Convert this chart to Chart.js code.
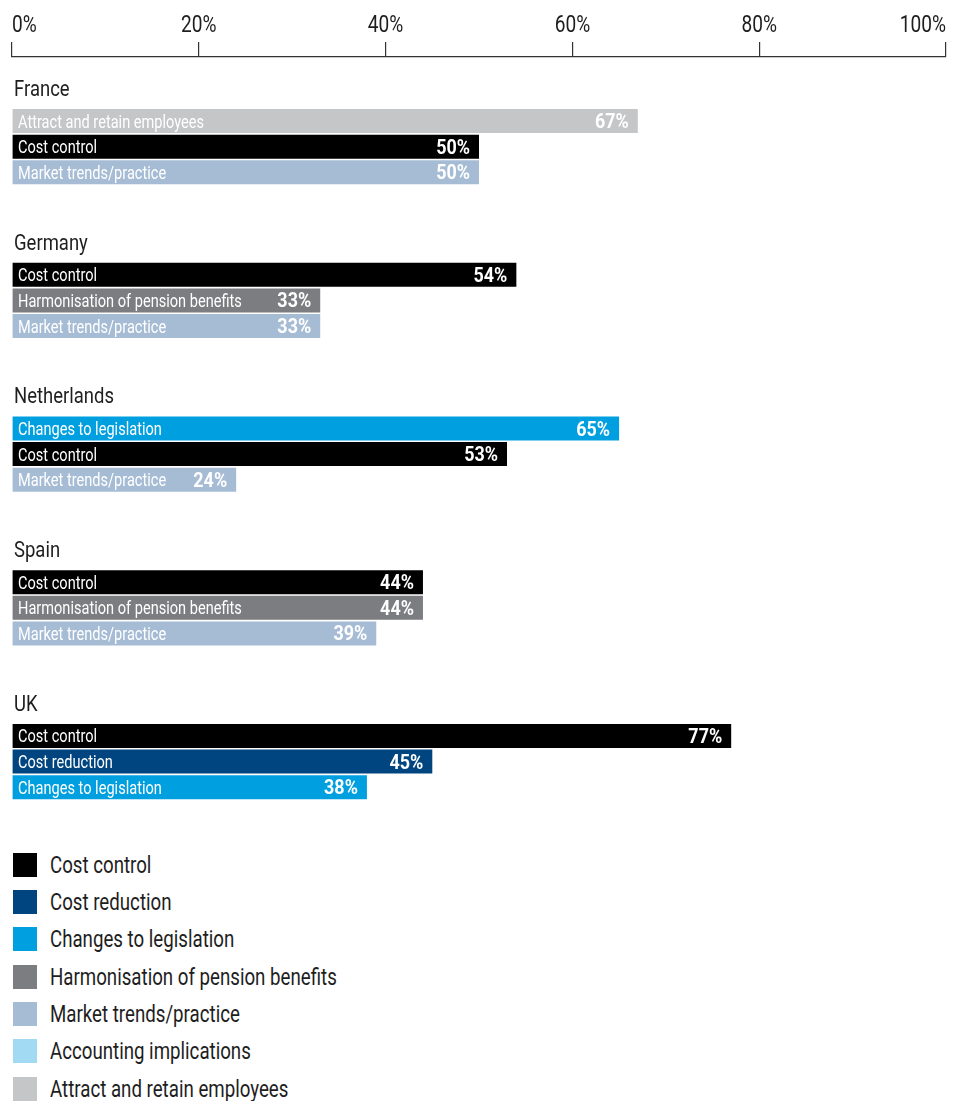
<!DOCTYPE html>
<html>
<head>
<meta charset="utf-8">
<script src="https://cdn.jsdelivr.net/npm/chart.js@4.4.1/dist/chart.umd.min.js"></script>
<style>
  body { margin: 0; background: #fff; font-family: Roboto, sans-serif; }
  #wrap { position: relative; width: 963px; height: 810px; }
  #legend { margin-top: 36px; }
  .item { display: flex; align-items: center; height: 37.33px; color: #1e1e1e; font-size: 23.5px; }
  .swatch { width: 24px; height: 24px; margin-left: 13px; margin-right: 13px; flex: none; }
  .item span.txt { display: inline-block; transform: scaleX(0.795); transform-origin: left center; white-space: nowrap; }
</style>
</head>
<body>
<div id="wrap"><canvas id="chart"></canvas></div>
<div id="legend"></div>
<script>
const FONT = 'Roboto, sans-serif';

const countries = ['France', 'Germany', 'Netherlands', 'Spain', 'UK'];
const drivers = [
  ['Attract and retain employees', 'Cost control', 'Market trends/practice'],
  ['Cost control', 'Harmonisation of pension benefits', 'Market trends/practice'],
  ['Changes to legislation', 'Cost control', 'Market trends/practice'],
  ['Cost control', 'Harmonisation of pension benefits', 'Market trends/practice'],
  ['Cost control', 'Cost reduction', 'Changes to legislation'],
];
const shares = [
  [67, 50, 50],
  [54, 33, 33],
  [65, 53, 24],
  [44, 44, 39],
  [77, 45, 38],
];
const legendLabels = [
  'Cost control',
  'Cost reduction',
  'Changes to legislation',
  'Harmonisation of pension benefits',
  'Market trends/practice',
  'Accounting implications',
  'Attract and retain employees',
];
const legendColours = ['#000000', '#00457f', '#009fe0', '#7c7d80', '#a6bcd5', '#a2d9f3', '#c5c6c8'];
const xTicks = [0, 20, 40, 60, 80, 100];

// one row per slot: spacer rows keep room for the country titles
const rows = [{ kind: 'gap' }];
countries.forEach((c, i) => {
  if (i > 0) rows.push({ kind: 'gap' }, { kind: 'gap' });
  rows.push({ kind: 'title', country: c });
  drivers[i].forEach((d, j) => rows.push({ kind: 'bar', country: c, first: j === 0, name: d, value: shares[i][j] }));
});

const colourOf = name => legendColours[legendLabels.indexOf(name)];

// narrow text: the canvas is squeezed horizontally around the anchor point
function narrowText(ctx, text, x, y, align, font, squeeze) {
  ctx.save();
  ctx.font = font;
  ctx.textAlign = align;
  ctx.translate(x, y);
  ctx.scale(squeeze, 1);
  ctx.fillText(text, 0, 0);
  ctx.restore();
}

const barText = {
  id: 'barText',
  afterDatasetsDraw(chart) {
    const ctx = chart.ctx;
    const meta = chart.getDatasetMeta(0);
    const left = chart.chartArea.left;
    ctx.save();
    ctx.textBaseline = 'alphabetic';
    meta.data.forEach((bar, i) => {
      const row = rows[i];
      if (row.kind !== 'bar') return;
      ctx.fillStyle = '#fff';
      narrowText(ctx, row.name, left + 6, bar.y + 6.5, 'left', '18px ' + FONT, 0.81);
      narrowText(ctx, row.value + '%', bar.x - 9, bar.y + 7, 'right', 'bold 19.5px ' + FONT, 0.92);
      if (row.first) {
        ctx.fillStyle = '#1e1e1e';
        narrowText(ctx, row.country, left + 2, bar.y - bar.height / 2 - 13, 'left', '22px ' + FONT, 0.84);
      }
    });
    ctx.restore();
  }
};

// percentage labels above the top axis
const axisText = {
  id: 'axisText',
  afterDraw(chart) {
    const ctx = chart.ctx;
    const x = chart.scales.x;
    ctx.save();
    ctx.fillStyle = '#1e1e1e';
    ctx.textBaseline = 'alphabetic';
    xTicks.forEach((v, i) => {
      const align = i === 0 ? 'left' : i === xTicks.length - 1 ? 'right' : 'center';
      narrowText(ctx, v + '%', x.getPixelForValue(v), x.bottom - 25, align, '24.5px ' + FONT, 0.78);
    });
    ctx.restore();
  }
};

const ctx = document.getElementById('chart').getContext('2d');
new Chart(ctx, {
  type: 'bar',
  data: {
    labels: rows.map((r, i) => 'r' + i),
    datasets: [{
      data: rows.map(r => r.kind === 'bar' ? r.value : null),
      backgroundColor: rows.map(r => r.kind === 'bar' ? colourOf(r.name) : 'transparent'),
      barPercentage: 1,
      categoryPercentage: 0.937,
      borderWidth: 0,
    }]
  },
  options: {
    indexAxis: 'y',
    responsive: true,
    maintainAspectRatio: false,
    animation: false,
    layout: { padding: { left: 12, right: 17, top: 42, bottom: 10 } },
    plugins: { legend: { display: false }, tooltip: { enabled: false } },
    scales: {
      x: {
        position: 'top',
        min: 0,
        max: 100,
        afterBuildTicks: axis => { axis.ticks = xTicks.map(v => ({ value: v })); },
        ticks: { display: false },
        grid: { drawOnChartArea: false, tickLength: 15, color: '#333', lineWidth: 1.2 },
        border: { color: '#333', width: 1.2 },
      },
      y: { display: false },
    }
  },
  plugins: [barText, axisText]
});

// legend, one entry per line
const legend = document.getElementById('legend');
legendLabels.forEach((label, i) => {
  const item = document.createElement('div');
  item.className = 'item';
  item.innerHTML = '<span class="swatch" style="background:' + legendColours[i] + '"></span><span class="txt">' + label + '</span>';
  legend.appendChild(item);
});
</script>
</body>
</html>
